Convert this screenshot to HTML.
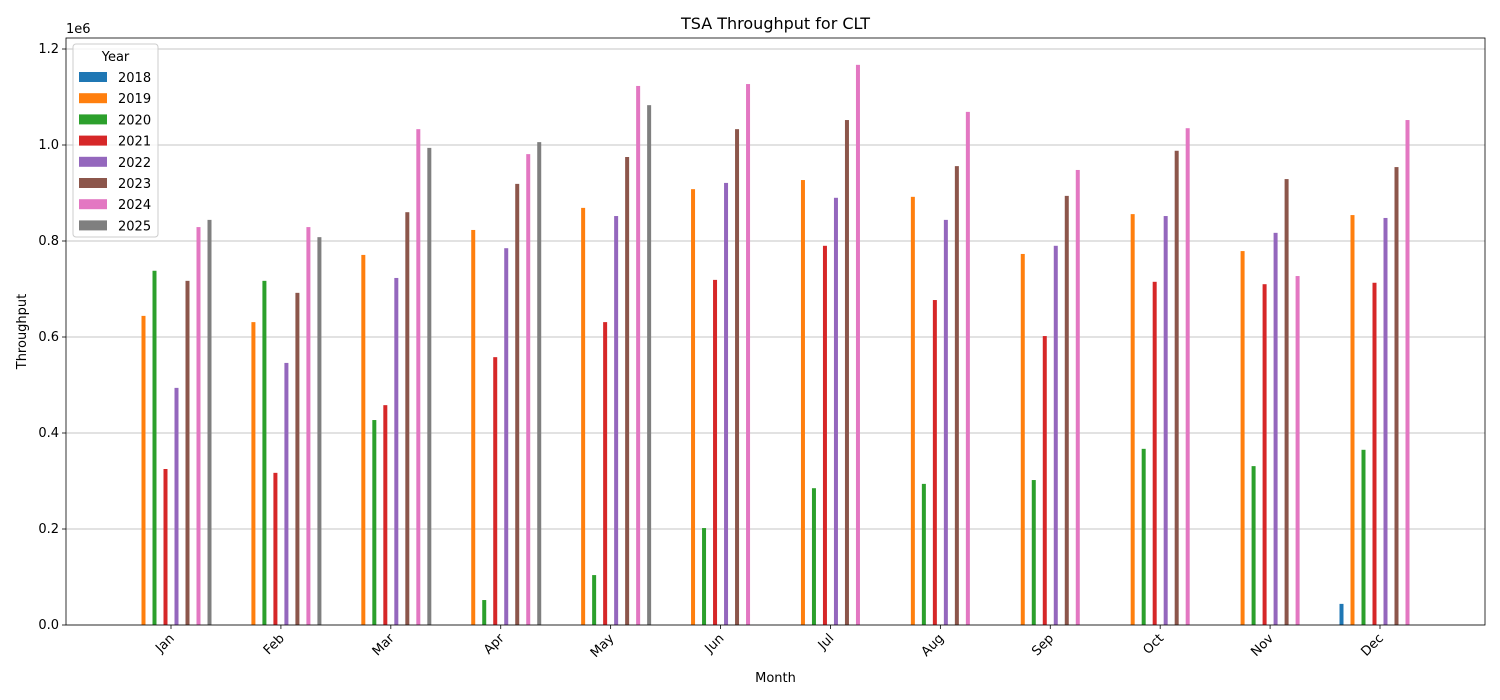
<!DOCTYPE html>
<html><head><meta charset="utf-8"><style>
body{margin:0;background:#fff;}
svg{display:block;font-family:"DejaVu Sans","Liberation Sans",sans-serif;}
</style></head><body>
<svg id="chart" width="1500" height="700" viewBox="0 0 1500 700" xmlns="http://www.w3.org/2000/svg"></svg>
<script>
const months = ["Jan","Feb","Mar","Apr","May","Jun","Jul","Aug","Sep","Oct","Nov","Dec"];
const years = ["2018","2019","2020","2021","2022","2023","2024","2025"];
const colors = ["#1f77b4","#ff7f0e","#2ca02c","#d62728","#9467bd","#8c564b","#e377c2","#7f7f7f"];
const s2018 = [null,null,null,null,null,null,null,null,null,null,null,0.044];
const s2019 = [0.644,0.631,0.771,0.823,0.869,0.908,0.927,0.892,0.773,0.856,0.779,0.854];
const s2020 = [0.738,0.717,0.427,0.052,0.104,0.202,0.285,0.294,0.302,0.367,0.331,0.365];
const s2021 = [0.325,0.317,0.458,0.558,0.631,0.719,0.790,0.677,0.602,0.715,0.710,0.713];
const s2022 = [0.494,0.546,0.723,0.785,0.852,0.921,0.890,0.844,0.790,0.852,0.817,0.848];
const s2023 = [0.717,0.692,0.860,0.919,0.975,1.033,1.052,0.956,0.894,0.988,0.929,0.954];
const s2024 = [0.829,0.829,1.033,0.981,1.123,1.127,1.167,1.069,0.948,1.035,0.727,1.052];
const s2025 = [0.844,0.808,0.994,1.006,1.083,null,null,null,null,null,null,null];
const yTicks = [0,0.2,0.4,0.6,0.8,1.0,1.2];
const series = [s2018,s2019,s2020,s2021,s2022,s2023,s2024,s2025];

const NS="http://www.w3.org/2000/svg";
const svg=document.getElementById('chart');
const L=66,R=1485,T=38,B=625;
const x=i=>171+i*((1380-171)/11);
const y=v=>B-v*480;
function mk(tag,attrs,parent){const e=document.createElementNS(NS,tag);for(const k in attrs)e.setAttribute(k,attrs[k]);(parent||svg).appendChild(e);return e;}

// gridlines
yTicks.forEach(t=>{
  const g=mk('line',{x1:L,x2:R,y1:y(t),y2:y(t),stroke:'#b0b0b0','stroke-width':0.8});
  
  
  mk('line',{x1:L-4,x2:L,y1:y(t),y2:y(t),stroke:'#000','stroke-width':0.8});
  const tx=mk('text',{x:L-7,y:y(t)+4,'text-anchor':'end','font-size':13,fill:'#000'});
  tx.textContent=t.toFixed(1);
  
  
});
// bars
series.forEach((s,si)=>{
  s.forEach((v,mi)=>{
    if(v==null)return;
    const cx=x(mi)-38.5+si*11;
    const r=mk('rect',{x:cx-2,y:y(v),width:4,height:B-y(v),fill:colors[si]});
    
    
  });
});
// x ticks
months.forEach((m,i)=>{
  mk('line',{x1:x(i),x2:x(i),y1:B,y2:B+4,stroke:'#000','stroke-width':0.8});
  const tx=mk('text',{x:0,y:0,'text-anchor':'end','font-size':13,fill:'#000',transform:`translate(${x(i)+4},${B+14}) rotate(-45)`});
  tx.textContent=m;
  
  
});
// frame
const fr=mk('rect',{x:L,y:T,width:R-L,height:B-T,fill:'none',stroke:'#000','stroke-width':0.8});


// titles
let t=mk('text',{x:(L+R)/2,y:29,'text-anchor':'middle','font-size':16});t.textContent='TSA Throughput for CLT';


t=mk('text',{x:(L+R)/2,y:682,'text-anchor':'middle','font-size':13});t.textContent='Month';


t=mk('text',{x:0,y:0,'text-anchor':'middle','font-size':13,transform:`translate(26,${(T+B)/2}) rotate(-90)`});t.textContent='Throughput';


t=mk('text',{x:L,y:33,'font-size':13});t.textContent='1e6';


// legend
const lg=mk('g',{});


mk('rect',{x:73,y:44,width:85,height:193,fill:'#fff','fill-opacity':0.8,stroke:'#ccc',rx:3},lg);
t=mk('text',{x:115.5,y:61,'text-anchor':'middle','font-size':13},lg);t.textContent='Year';
years.forEach((yr,i)=>{
  const e=mk('g',{},lg);
  
  
  const ry=72+i*21.2;
  mk('rect',{x:79,y:ry,width:28,height:10,fill:colors[i]},e);
  const tt=mk('text',{x:118,y:ry+10,'font-size':13},e);tt.textContent=yr;
});
</script>
</body></html>
